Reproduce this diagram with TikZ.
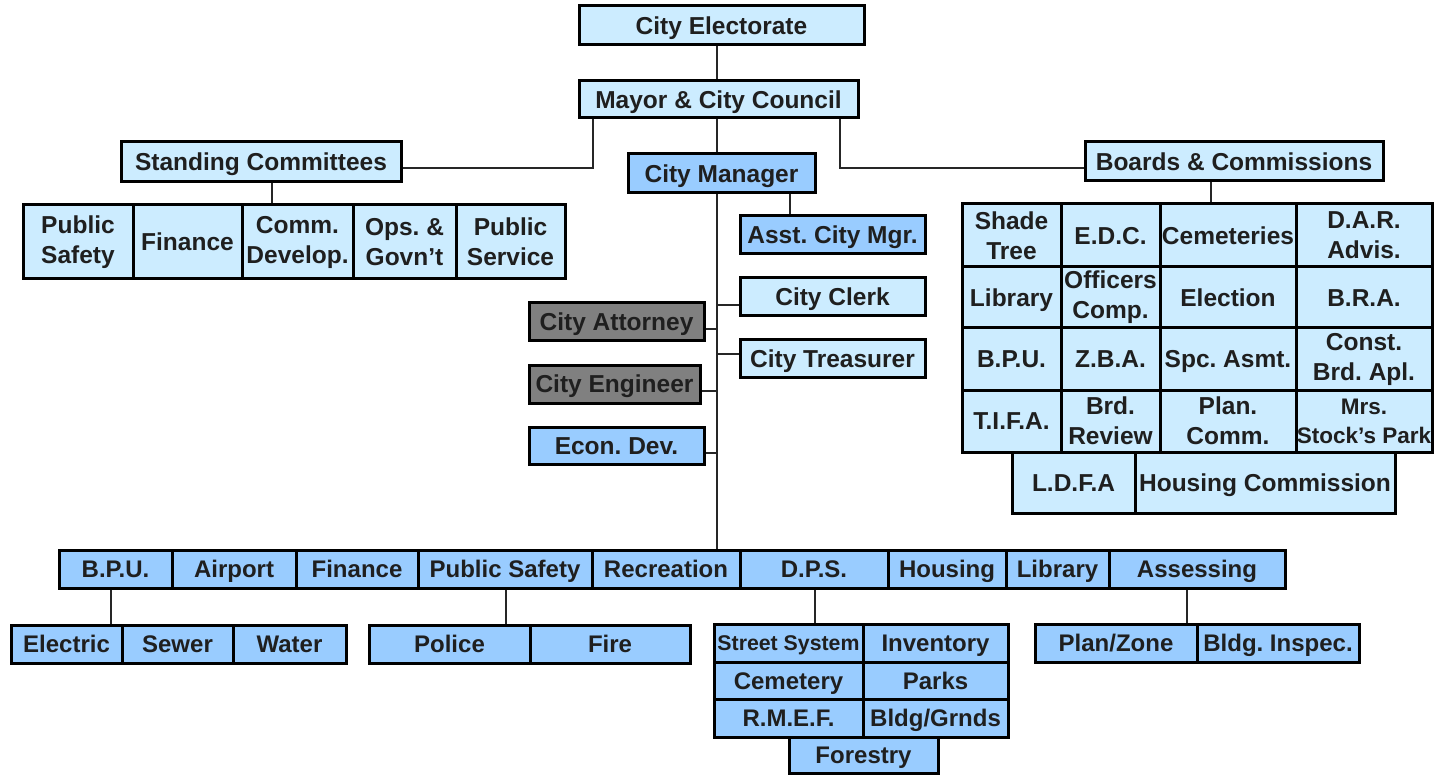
\documentclass[tikz,border=0pt]{standalone}
\usepackage{fontspec}
\setmainfont{Liberation Sans}
\definecolor{lb}{RGB}{204,236,255}
\definecolor{mb}{RGB}{153,204,255}
\definecolor{gy}{RGB}{128,128,128}
\tikzset{
  bx/.style={draw=black, line width=3pt, inner sep=0pt, align=center, text=black!88, font=\fontsize{24.5}{30}\selectfont\bfseries\frenchspacing},
  one/.style={text height=22pt, text depth=4.5pt},
  lbx/.style={bx, fill=lb, one},
  lbm/.style={bx, fill=lb},
  mbx/.style={bx, fill=mb, one},
  gbx/.style={bx, fill=gy, one},
  sbx/.style={bx, fill=mb, one, font=\fontsize{24}{29}\selectfont\bfseries\frenchspacing},
  con/.style={line width=2pt, draw=black!85},
}
\newcommand\bx[7]{\node[#6, minimum width={#4-#2}, minimum height={#5-#3}] (#1) at ({(#2+#4)/2},{(#3+#5)/2}) {#7};}
\begin{document}
\begin{tikzpicture}[x=1pt,y=-1pt]
\useasboundingbox (0,0) rectangle (1437,775);
% top
\bx{elec}{579}{6}{864}{45}{lbx}{City Electorate}
\bx{mayor}{579}{81}{858}{118}{lbx}{Mayor \& City Council}
\bx{mgr}{628}{154}{815}{193}{mbx}{City Manager}
\bx{stand}{121}{142}{401}{182}{lbx}{Standing Committees}
\bx{boards}{1085}{142}{1383}{181}{lbx}{Boards \& Commissions}
% committees
\bx{sc1}{23}{205}{133}{279}{lbm}{Public\\Safety}
\bx{sc2}{133}{205}{242}{279}{lbx}{Finance}
\bx{sc3}{242}{205}{353}{279}{lbm}{Comm.\\Develop.}
\bx{sc4}{353}{205}{456}{279}{lbm}{Ops. \&\\Govn’t}
\bx{sc5}{456}{205}{565}{279}{lbm}{Public\\Service}
% boards grid
\bx{g11}{962}{204}{1061}{267}{lbm}{Shade\\Tree}
\bx{g12}{1061}{204}{1160}{267}{lbx}{E.D.C.}
\bx{g13}{1160}{204}{1296}{267}{lbx}{Cemeteries}
\bx{g14}{1296}{204}{1432}{267}{lbm}{D.A.R.\\Advis.}
\bx{g21}{962}{267}{1061}{328}{lbx}{Library}
\bx{g22}{1061}{267}{1160}{328}{lbm}{Officers\\Comp.}
\bx{g23}{1160}{267}{1296}{328}{lbx}{Election}
\bx{g24}{1296}{267}{1432}{328}{lbx}{B.R.A.}
\bx{g31}{962}{328}{1061}{390}{lbx}{B.P.U.}
\bx{g32}{1061}{328}{1160}{390}{lbx}{Z.B.A.}
\bx{g33}{1160}{328}{1296}{390}{lbx}{Spc. Asmt.}
\bx{g34}{1296}{328}{1432}{390}{lbm}{Const.\\Brd. Apl.}
\bx{g41}{962}{390}{1061}{452}{lbx}{T.I.F.A.}
\bx{g42}{1061}{390}{1160}{452}{lbm}{Brd.\\Review}
\bx{g43}{1160}{390}{1296}{452}{lbm}{Plan.\\Comm.}
\bx{g44}{1296}{390}{1432}{452}{lbm,font=\fontsize{22.5}{29}\selectfont\bfseries}{Mrs.\\Stock’s Park}
\bx{g51}{1012}{452}{1135}{513}{lbx}{L.D.F.A}
\bx{g52}{1135}{452}{1395}{513}{lbx}{Housing Commission}
% staff
\bx{asst}{740}{216}{925}{254}{mbx}{Asst. City Mgr.}
\bx{clerk}{740}{278}{925}{316}{lbx}{City Clerk}
\bx{treas}{740}{340}{925}{377}{lbx}{City Treasurer}
\bx{atty}{529}{303}{704}{341}{gbx}{City Attorney}
\bx{eng}{529}{365}{700}{403}{gbx}{City Engineer}
\bx{econ}{529}{427}{704}{464}{mbx}{Econ. Dev.}
% departments
\bx{bpu}{59}{550}{172}{588}{sbx}{B.P.U.}
\bx{air}{172}{550}{296}{588}{sbx}{Airport}
\bx{fin}{296}{550}{418}{588}{sbx}{Finance}
\bx{ps}{418}{550}{592}{588}{sbx}{Public Safety}
\bx{rec}{592}{550}{740}{588}{sbx}{Recreation}
\bx{dps}{740}{550}{888}{588}{sbx}{D.P.S.}
\bx{hous}{888}{550}{1006}{588}{sbx}{Housing}
\bx{lib}{1006}{550}{1109}{588}{sbx}{Library}
\bx{assess}{1109}{550}{1285}{588}{sbx}{Assessing}
% sub departments
\bx{elc}{11}{625}{122}{663}{sbx}{Electric}
\bx{sew}{122}{625}{233}{663}{sbx}{Sewer}
\bx{wat}{233}{625}{346}{663}{sbx}{Water}
\bx{pol}{369}{625}{530}{663}{sbx}{Police}
\bx{fire}{530}{625}{690}{663}{sbx}{Fire}
\bx{str}{714}{624}{863}{662}{sbx,text height=19.5pt,text depth=4pt,font=\fontsize{21.3}{26}\selectfont\bfseries}{Street System}
\bx{inv}{863}{624}{1008}{662}{sbx}{Inventory}
\bx{cem}{714}{662}{863}{699}{sbx}{Cemetery}
\bx{park}{863}{662}{1008}{699}{sbx}{Parks}
\bx{rmef}{714}{699}{863}{737}{sbx}{R.M.E.F.}
\bx{bldg}{863}{699}{1008}{737}{sbx}{Bldg/Grnds}
\bx{for}{789}{737}{938}{773}{sbx}{Forestry}
\bx{plan}{1035}{624}{1197}{662}{sbx}{Plan/Zone}
\bx{insp}{1197}{624}{1359}{662}{sbx}{Bldg. Inspec.}
% connector guides
\coordinate (tx) at (717,0);
\coordinate (ax) at (790,0);
\coordinate (ml) at (593,168);
\coordinate (mr) at (840,168);
\coordinate (sx) at (272,0);
\coordinate (bx) at (1211,0);
\coordinate (yclerk) at (0,305);
\coordinate (ytreas) at (0,354);
\coordinate (yatty) at (0,329);
\coordinate (yeng) at (0,391);
\coordinate (yecon) at (0,453);
\coordinate (xbpu) at (111,0);
\coordinate (xps) at (506,0);
\coordinate (xdps) at (815,0);
\coordinate (xas) at (1187,0);
% connectors
\draw[con] (elec.south -| tx) -- (mayor.north -| tx);
\draw[con] (mayor.south -| tx) -- (mgr.north -| tx);
\draw[con] (mgr.south -| tx) -- (rec.north -| tx);
\draw[con] (mayor.south -| ml) |- (stand.east |- ml);
\draw[con] (mayor.south -| mr) |- (boards.west |- mr);
\draw[con] (stand.south -| sx) -- (sc3.north -| sx);
\draw[con] (boards.south -| bx) -- (g13.north -| bx);
\draw[con] (mgr.south -| ax) -- (asst.north -| ax);
\draw[con] (clerk.west |- yclerk) -- (tx |- yclerk);
\draw[con] (treas.west |- ytreas) -- (tx |- ytreas);
\draw[con] (atty.east |- yatty) -- (tx |- yatty);
\draw[con] (eng.east |- yeng) -- (tx |- yeng);
\draw[con] (econ.east |- yecon) -- (tx |- yecon);
\draw[con] (bpu.south -| xbpu) -- (elc.north -| xbpu);
\draw[con] (ps.south -| xps) -- (pol.north -| xps);
\draw[con] (dps.south -| xdps) -- (str.north -| xdps);
\draw[con] (assess.south -| xas) -- (plan.north -| xas);
\end{tikzpicture}
\end{document}
